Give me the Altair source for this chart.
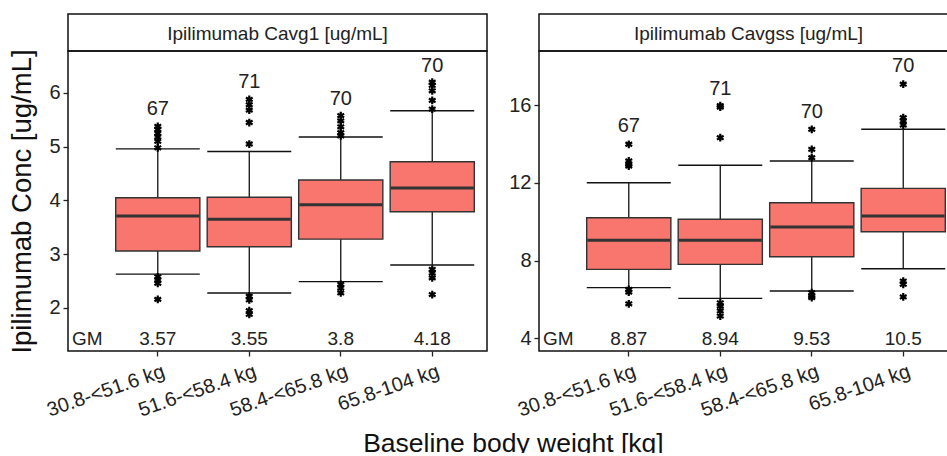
import altair as alt
import pandas as pd

FONT = "Liberation Sans"

groups = ["30.8-<51.6 kg", "51.6-<58.4 kg", "58.4-<65.8 kg", "65.8-104 kg"]

# Panel 1: Ipilimumab Cavg1
strip1 = "Ipilimumab Cavg1 [ug/mL]"
wlo1 = [2.63, 2.28, 2.49, 2.80]
q1_1 = [3.06, 3.14, 3.28, 3.79]
med1 = [3.71, 3.65, 3.92, 4.23]
q3_1 = [4.05, 4.06, 4.38, 4.72]
whi1 = [4.96, 4.91, 5.18, 5.67]
n1 = [67, 71, 70, 70]
npos1 = [5.70, 6.20, 5.89, 6.51]
gm1 = ["3.57", "3.55", "3.8", "4.18"]
out1 = [
    [5.38, 5.32, 5.25, 5.18, 5.10, 4.98, 2.58, 2.52, 2.46, 2.16],
    [5.05, 5.45, 5.68, 5.78, 5.88, 2.22, 2.15, 1.95, 1.88],
    [5.58, 5.48, 5.37, 5.26, 5.20, 2.44, 2.37, 2.28],
    [6.20, 6.14, 6.04, 5.86, 5.70, 2.72, 2.65, 2.56, 2.25],
]
ydom1 = [1.2, 6.78]
yticks1 = [2, 3, 4, 5, 6]

# Panel 2: Ipilimumab Cavgss
strip2 = "Ipilimumab Cavgss [ug/mL]"
wlo2 = [6.61, 6.06, 6.44, 7.58]
q1_2 = [7.55, 7.81, 8.20, 9.49]
med2 = [9.05, 9.05, 9.73, 10.30]
q3_2 = [10.21, 10.13, 10.98, 11.72]
whi2 = [12.01, 12.91, 13.13, 14.76]
n2 = [67, 71, 70, 70]
npos2 = [14.93, 16.82, 15.65, 18.02]
gm2 = ["8.87", "8.94", "9.53", "10.5"]
out2 = [
    [13.99, 13.13, 12.96, 12.87, 6.52, 6.38, 5.78],
    [15.98, 15.90, 14.33, 5.83, 5.66, 5.41, 5.15],
    [14.76, 13.73, 13.30, 6.35, 6.18, 6.10],
    [17.08, 15.36, 15.19, 14.98, 6.95, 6.78, 6.13],
]
ydom2 = [3.35, 18.79]
yticks2 = [4, 8, 12, 16]

W, H, SH = 419, 300, 37
LINE = "#111111"
ASTERISK = "M0,-1V1M-0.87,-0.5L0.87,0.5M-0.87,0.5L0.87,-0.5"


def panel(strip, wlo, q1, med, q3, whi, n, npos, gm, out, ydom, yticks, ytitle):
    box_df = pd.DataFrame({"group": groups, "wlo": wlo, "q1": q1, "med": med,
                           "q3": q3, "whi": whi, "n": n, "npos": npos, "gm": gm})
    out_df = pd.DataFrame([{"group": g, "v": v} for g, vals in zip(groups, out) for v in vals])

    xscale = alt.Scale(domain=groups, paddingInner=0, paddingOuter=0.29, align=0.83)
    xaxis = alt.Axis(title=None, labelAngle=341, labelAlign="right", labelBaseline="top",
                     labelFontSize=20, labelFont=FONT, labelColor="#222222", tickColor="#222222",
                     tickSize=5, tickWidth=1.3, domain=False,
                     labelPadding=5, labelOffset=3, grid=False)
    yscale = alt.Scale(domain=ydom, nice=False, zero=False)
    yaxis_kw = dict(values=yticks, labelFontSize=20, labelFont=FONT, labelColor="#222222",
                    tickColor="#222222", tickSize=5, tickWidth=1.3, domain=False,
                    labelPadding=3, grid=False,
                    titleFontSize=27.5, titleFont=FONT, titleFontWeight="normal",
                    titleColor="#111111", titlePadding=12)
    yaxis = alt.Axis(title=ytitle, **yaxis_kw) if ytitle else alt.Axis(title=None, **yaxis_kw)

    X = alt.X("group:N", scale=xscale, sort=groups, axis=xaxis)

    def Y(f):
        return alt.Y(f"{f}:Q", scale=yscale, axis=yaxis)

    base = alt.Chart(box_df)
    whisk = base.mark_rule(color="#111111", strokeWidth=1.3, opacity=1).encode(
        x=X, y=Y("wlo"), y2="whi")
    box = base.mark_bar(fill="#F8766D", stroke="#333333", strokeWidth=1.4, opacity=1,
                        width=alt.RelativeBandSize(0.92)).encode(x=X, y=Y("q1"), y2="q3")
    medl = base.mark_tick(color="#333333", thickness=3, size=83, opacity=1).encode(x=X, y=Y("med"))
    caplo = base.mark_tick(color="#111111", thickness=1.4, size=84, opacity=1).encode(x=X, y=Y("wlo"))
    caphi = base.mark_tick(color="#111111", thickness=1.4, size=84, opacity=1).encode(x=X, y=Y("whi"))
    pts = alt.Chart(out_df).mark_point(shape=ASTERISK, size=60, filled=False, color="#000000",
                                       strokeWidth=2.2, opacity=1).encode(x=X, y=Y("v"))
    nlab = base.mark_text(font=FONT, fontSize=20, color="#222222", baseline="middle").encode(
        x=X, y=Y("npos"), text="n:Q")
    gmv = base.mark_text(font=FONT, fontSize=19, color="#222222", baseline="middle").encode(
        x=X, y=alt.value(288), text="gm:N")
    gml = alt.Chart(pd.DataFrame({"t": ["GM"]})).mark_text(
        font=FONT, fontSize=19, color="#222222", baseline="middle", align="left").encode(
        x=alt.value(4), y=alt.value(288), text="t:N")

    main = alt.layer(whisk, box, medl, caplo, caphi, pts, nlab, gmv, gml).properties(width=W, height=H)
    head = alt.Chart(pd.DataFrame({"t": [strip]})).mark_text(
        font=FONT, fontSize=19, color="#222222", baseline="middle").encode(
        x=alt.value(W / 2), y=alt.value(SH / 2 + 1), text="t:N").properties(width=W, height=SH)

    return alt.vconcat(head, main, spacing=0, bounds="flush")


p1 = panel(strip1, wlo1, q1_1, med1, q3_1, whi1, n1, npos1, gm1, out1, ydom1, yticks1,
           "Ipilimumab Conc [ug/mL]")
p2 = panel(strip2, wlo2, q1_2, med2, q3_2, whi2, n2, npos2, gm2, out2, ydom2, yticks2, None)

chart = alt.hconcat(p1, p2, spacing=20).properties(
    title=alt.TitleParams("Baseline body weight [kg]", orient="bottom", anchor="middle",
                          fontSize=26.5, font=FONT, fontWeight="normal", color="#111111", offset=10,
                          dx=30),
    padding={"left": 8, "top": 13, "right": -12, "bottom": -5},
).configure(background="white").configure_view(stroke=LINE, strokeWidth=1.5)

chart.save("out.html", embed_options={"renderer": "svg", "actions": False})
